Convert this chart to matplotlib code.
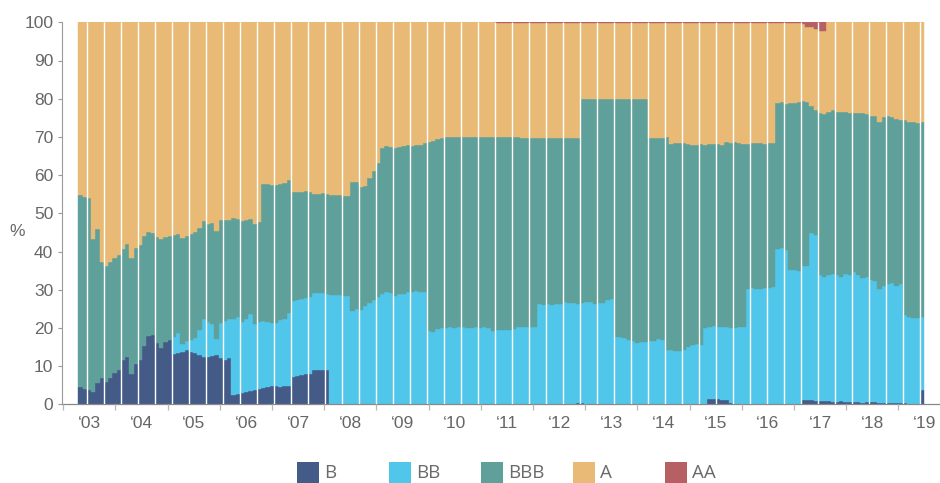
import matplotlib
matplotlib.use('Agg')
import matplotlib.pyplot as plt
from matplotlib.patches import Rectangle
import numpy as np

plt.rcParams['font.family'] = ['Liberation Sans Narrow', 'Liberation Sans', 'DejaVu Sans']

series_names = ['B', 'BB', 'BBB', 'A', 'AA']
colors = ['#445A87', '#50C6EB', '#5FA19A', '#E8BA76', '#B66064']

B = [
    4.5, 4.0, 3.8, 3.1, 5.5, 6.9, 5.8, 6.9, 8.2, 9.0, 11.6, 12.4, 7.9, 10.6, 11.6, 15.3, 17.9, 18.2, 16.1, 14.7, 16.3, 16.8,
    13.2, 13.5, 13.7, 14.2, 13.7, 13.4, 12.9, 12.4, 12.4, 12.7, 12.9, 12.1, 11.6, 12.1,
    2.4, 2.7, 3.0, 3.2, 3.5, 3.8, 4.0, 4.3, 4.5, 4.8, 4.8, 4.5, 4.8, 4.8,
    7.2, 7.4, 7.7, 7.9, 7.9, 9.0, 9.0, 9.0, 9.0,
    0, 0, 0, 0, 0, 0, 0, 0, 0, 0, 0, 0, 0, 0, 0, 0, 0, 0, 0, 0, 0, 0, 0,
    0, 0, 0, 0, 0, 0, 0, 0, 0, 0, 0, 0, 0, 0, 0, 0,
    0, 0, 0, 0, 0, 0, 0, 0, 0, 0, 0, 0, 0, 0, 0, 0, 0, 0, 0,
    0.3, 0.3,
    0, 0, 0, 0, 0, 0, 0, 0, 0, 0, 0, 0, 0, 0, 0, 0, 0, 0, 0, 0, 0, 0, 0, 0, 0, 0, 0, 0, 0,
    1.4, 1.4, 1.4, 1.1, 1.1, 0.4,
    0, 0, 0, 0, 0, 0, 0, 0, 0, 0, 0, 0, 0, 0, 0, 0,
    1.1, 1.1, 1.1, 0.9, 0.9, 0.9, 0.9, 0.6, 0.6, 0.9, 0.6, 0.6, 0.6, 0.6, 0.4, 0.6, 0.6, 0.6, 0.4, 0.4,
    0.4, 0.4, 0.4, 0.4, 0.4, 0.1, 0.1, 0.1, 3.8,
]

BB = [
    0, 0, 0, 0, 0, 0, 0, 0, 0, 0, 0, 0, 0, 0, 0, 0, 0, 0, 0, 0, 0, 0,
    4.4, 5.2, 2.1, 2.4, 3.1, 4.0, 6.6, 9.9, 9.2, 8.3, 4.2, 9.2, 10.2, 10.2,
    19.9, 20.2, 18.6, 19.1, 20.1, 17.2, 17.6, 17.5, 17.1, 16.5, 16.5, 17.6, 17.5, 19.1,
    19.9, 19.9, 19.9, 19.9, 20.2, 20.1, 20.1, 20.1, 19.8,
    28.6, 28.6, 28.6, 28.4, 28.4, 24.4, 25.0, 24.7, 25.7, 26.5, 27.3, 28.1, 28.9, 29.4, 29.1, 28.4, 28.9, 28.9,
    29.4, 29.4, 29.7, 29.4, 29.4,
    19.2, 18.9, 19.7, 20.0, 20.0, 20.2, 20.0, 20.2, 20.2, 20.0, 20.0, 20.2, 20.0, 20.2, 20.0, 19.2,
    19.5, 19.5, 19.5, 19.5, 19.7, 20.2, 20.2, 20.2, 20.2, 20.2, 26.3, 26.1, 26.3, 26.0, 26.3, 26.3, 26.8, 26.5, 26.5,
    26.0, 26.2, 26.8, 26.8, 26.3, 26.5, 26.5, 27.3, 27.6, 17.6, 17.6, 17.4, 16.8, 16.6, 16.1, 16.3, 16.3, 16.6,
    16.6, 17.1, 16.8, 14.2, 14.2, 14.0, 14.0, 14.2, 15.0, 15.5, 15.8, 15.5, 20.0,
    18.8, 19.1, 18.8, 19.1, 19.1, 19.6, 20.0, 20.2, 20.2,
    30.2, 30.4, 30.2, 30.2, 30.4, 30.4, 30.7, 40.7, 40.9, 40.4, 35.2, 35.2, 34.9,
    35.1, 35.1, 43.8, 43.4, 33.0, 32.4, 33.0, 33.6, 33.3, 32.4, 33.6, 33.3, 34.1, 33.3, 32.7, 32.7, 31.9, 31.7,
    29.8, 30.6, 31.1, 31.4, 30.6, 31.1, 23.0, 22.8, 22.5, 22.5, 19.1,
]

BBB = [
    50.3, 50.3, 50.2, 40.2, 40.4, 30.4, 30.4, 30.4, 30.1, 30.1, 29.1, 29.6, 30.4, 30.3, 30.1, 28.8, 27.2, 26.6,
    27.7, 28.6, 27.5, 27.3,
    26.7, 25.9, 27.7, 27.5, 27.8, 27.7, 26.7, 25.7, 25.6, 26.5, 28.3, 27.0, 26.5, 26.0,
    26.5, 25.5, 26.4, 26.0, 24.9, 26.2, 26.1, 35.9, 36.1, 36.1, 36.1, 35.6, 35.6, 34.8,
    28.5, 28.3, 28.0, 28.0, 27.5, 26.0, 26.0, 26.2, 26.3,
    26.2, 26.2, 26.2, 26.1, 26.1, 33.8, 33.2, 32.2, 31.5, 32.7, 33.8, 35.1, 38.2, 38.2, 38.3, 38.7, 38.5, 38.7,
    38.5, 38.2, 38.2, 38.5, 39.0,
    49.5, 50.0, 49.8, 49.7, 50.0, 49.8, 50.0, 49.8, 49.8, 50.0, 50.0, 49.8, 50.0, 49.8, 50.0, 50.8,
    50.5, 50.5, 50.5, 50.5, 50.3, 49.8, 49.5, 49.5, 49.5, 49.5, 43.4, 43.6, 43.4, 43.7, 43.4, 43.4, 42.9, 43.2, 43.2,
    43.4, 53.4, 53.1, 53.1, 53.6, 53.4, 53.4, 52.6, 52.3, 62.3, 62.3, 62.5, 63.1, 63.3, 63.8, 63.6, 63.6, 53.1,
    53.1, 52.6, 52.9, 55.8, 54.0, 54.4, 54.4, 54.2, 53.2, 52.4, 52.1, 52.7, 47.9,
    48.0, 47.7, 48.0, 47.7, 48.5, 48.4, 48.7, 48.2, 48.0,
    38.0, 38.0, 38.2, 38.2, 37.8, 38.0, 37.7, 38.2, 38.2, 38.2, 43.7, 43.7, 44.2,
    43.2, 42.9, 33.2, 32.8, 42.4, 42.7, 42.6, 42.9, 42.6, 43.2, 42.3, 42.4, 41.6, 42.4, 43.2, 42.7, 43.0, 43.2,
    43.7, 44.2, 44.0, 43.4, 43.7, 42.9, 51.0, 51.0, 51.3, 51.0, 51.0,
]

A = [
    45.2, 45.7, 46.0, 56.7, 54.1, 62.7, 63.8, 62.7, 61.7, 60.9, 59.3, 58.0, 61.7, 59.1, 58.3, 55.9, 54.9, 55.2,
    56.2, 56.7, 56.2, 55.9,
    55.7, 55.4, 56.5, 55.9, 55.4, 54.9, 53.8, 52.0, 52.8, 52.5, 54.6, 51.7, 51.7, 51.7,
    51.2, 51.6, 52.0, 51.7, 51.5, 52.8, 52.3, 42.3, 42.3, 42.6, 42.6, 42.3, 42.1, 41.3,
    44.4, 44.4, 44.4, 44.2, 44.4, 44.9, 44.9, 44.7, 44.9,
    45.2, 45.2, 45.2, 45.5, 45.5, 41.8, 41.8, 43.1, 42.8, 40.8, 38.9, 36.8, 32.9, 32.4, 32.6, 32.9, 32.6, 32.4,
    32.1, 32.4, 32.1, 32.1, 31.6,
    31.3, 31.1, 30.5, 30.3, 30.0, 30.0, 30.0, 30.0, 30.0, 30.0, 30.0, 30.0, 30.0, 30.0, 30.0, 30.0,
    29.8, 29.8, 29.8, 29.8, 29.8, 29.8, 30.1, 30.1, 30.1, 30.1, 30.1, 30.1, 30.1, 30.1, 30.1, 30.1, 30.1, 30.1, 30.1,
    30.1, 19.9, 19.9, 19.9, 19.9, 19.9, 19.9, 19.9, 19.9, 19.9, 19.9, 19.9, 19.9, 19.9, 19.9, 19.9, 19.9, 30.1,
    30.1, 30.1, 30.1, 29.8, 31.6, 31.4, 31.4, 31.4, 31.6, 31.9, 31.9, 31.6, 31.9,
    31.6, 31.6, 31.6, 31.9, 31.1, 31.4, 31.1, 31.4, 31.6,
    31.6, 31.4, 31.4, 31.4, 31.6, 31.4, 31.4, 20.9, 20.7, 21.2, 20.9, 20.9, 20.7,
    20.1, 19.6, 20.6, 21.2, 21.5, 21.8, 23.5, 22.9, 23.5, 23.5, 23.5, 23.7, 23.7, 23.7, 23.7, 24.0, 24.5, 24.5,
    26.1, 24.8, 24.5, 24.8, 25.3, 25.6, 25.6, 26.1, 26.1, 26.4, 26.1,
]

AA = [
    0, 0, 0, 0, 0, 0, 0, 0, 0, 0, 0, 0, 0, 0, 0, 0, 0, 0, 0, 0, 0, 0,
    0, 0, 0, 0, 0, 0, 0, 0, 0, 0, 0, 0, 0, 0,
    0, 0, 0, 0, 0, 0, 0, 0, 0, 0, 0, 0, 0, 0,
    0, 0, 0, 0, 0, 0, 0, 0, 0,
    0, 0, 0, 0, 0, 0, 0, 0, 0, 0, 0, 0, 0, 0, 0, 0, 0, 0, 0, 0, 0, 0, 0,
    0, 0, 0, 0, 0, 0, 0, 0, 0, 0, 0, 0, 0, 0, 0, 0,
    0.2, 0.2, 0.2, 0.2, 0.2, 0.2, 0.2, 0.2, 0.2, 0.2, 0.2, 0.2, 0.2, 0.2, 0.2, 0.2, 0.2, 0.2, 0.2,
    0.2, 0.2, 0.2, 0.2, 0.2, 0.2, 0.2, 0.2, 0.2, 0.2, 0.2, 0.2, 0.2, 0.2, 0.2, 0.2, 0.2, 0.2,
    0.2, 0.2, 0.2, 0.2, 0.2, 0.2, 0.2, 0.2, 0.2, 0.2, 0.2, 0.2, 0.2,
    0.2, 0.2, 0.2, 0.2, 0.2, 0.2, 0.2, 0.2, 0.2,
    0.2, 0.2, 0.2, 0.2, 0.2, 0.2, 0.2, 0.2, 0.2, 0.2, 0.2, 0.2, 0.2,
    0.5, 1.3, 1.3, 1.7, 2.2, 2.2, 0, 0, 0, 0, 0, 0, 0, 0, 0, 0, 0, 0,
    0, 0, 0, 0, 0, 0, 0, 0, 0, 0, 0,
]

years = list(range(2003, 2020))
year_labels = ['\u2018%02d' % (y % 100) for y in years]
y_ticks = [0, 10, 20, 30, 40, 50, 60, 70, 80, 90, 100]

# ---- layout ----
W, H = 940, 483
fig = plt.figure(figsize=(W / 100, H / 100), dpi=100)
px_left, px_right = 62.3, 940.0
px_bottom, px_top = 404.3, 22.3
ax = fig.add_axes([px_left / W, 1 - px_bottom / H, (px_right - px_left) / W, (px_bottom - px_top) / H])

year_px = 52.19
x_origin_px = 63.3
first_bar = 2003 + (78.3 - x_origin_px) / year_px
bar_w = 4.25 / year_px
n = len(B)
lefts = first_bar + np.arange(n) * bar_w

bottom = np.zeros(n)
for name, vals, c in zip(series_names, [B, BB, BBB, A, AA], colors):
    v = np.array(vals, dtype=float)
    ec = [c if h > 0 else 'none' for h in v]
    ax.bar(lefts, v, width=bar_w, bottom=bottom, align='edge', color=c,
           edgecolor=ec, linewidth=0.3, label=name)
    bottom += v

# white separators every four bars
ax.vlines(lefts[2::4], 0, 100, colors='white', linewidth=1.0, zorder=3)

ax.set_xlim(2003 + (px_left - x_origin_px) / year_px, 2003 + (px_right - x_origin_px) / year_px)
ax.set_ylim(0, 100)

ax.set_xticks(years)
ax.set_xticklabels([''] * len(years))
ax.set_xticks([y + 0.5 for y in years], minor=True)
ax.set_xticklabels(year_labels, minor=True)
ax.tick_params(axis='x', which='major', length=4.3, color='#b8b8b8', width=0.9, direction='out')
ax.tick_params(axis='x', which='minor', length=0, pad=8.5, labelsize=12.5, labelcolor='#666666')

ax.set_yticks(y_ticks)
ax.set_yticklabels([str(t) for t in y_ticks])
ax.tick_params(axis='y', length=3, color='#999999', width=0.8, pad=3.5, labelsize=12.5, labelcolor='#666666')

for s in ['top', 'right']:
    ax.spines[s].set_visible(False)
ax.spines['left'].set_color('#999999')
ax.spines['left'].set_linewidth(0.8)
ax.spines['bottom'].set_color('#888888')
ax.spines['bottom'].set_linewidth(0.9)
ax.set_axisbelow(False)

fig.text(17 / W, 1 - 231 / H, '%', ha='center', va='center', fontsize=12.5, color='#666666')

# legend (manual, along the bottom edge)
leg_x0 = 296.7
leg_step = 92.0
for i, (name, c) in enumerate(zip(series_names, colors)):
    x = leg_x0 + i * leg_step
    fig.patches.append(Rectangle((x / W, 1 - 483 / H), 22 / W, 21 / H,
                                 transform=fig.transFigure, facecolor=c, edgecolor='none'))
    fig.text((x + 27.5) / W, 1 - 478 / H, name, ha='left', va='baseline',
             fontsize=13.5, color='#6a6a6a', family=['Open Sans', 'DejaVu Sans'])

fig.savefig('out.png', dpi=100)
